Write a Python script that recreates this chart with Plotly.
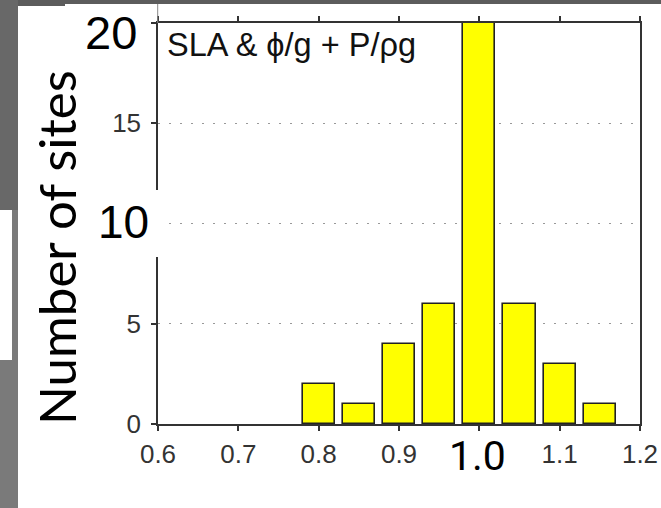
import plotly.graph_objects as go

# Data
bin_centers = [0.80, 0.85, 0.90, 0.95, 1.00, 1.05, 1.10, 1.15]
site_counts = [2, 1, 4, 6, 20, 6, 3, 1]
x_tick_vals = [0.6, 0.7, 0.8, 0.9, 1.0, 1.1, 1.2]
x_tick_text = ["0.6", "0.7", "0.8", "0.9", "", "1.1", "1.2"]
y_tick_vals = [0, 5, 10, 15, 20]
y_tick_text = ["0", "5", "", "15", ""]

W, H = 661, 508
L, R, T, B = 158, 640, 23, 424  # plot area pixel bounds


def px(x):
    return (x - L) / (R - L)


def py(y):
    return (B - y) / (B - T)


fig = go.Figure()
fig.add_trace(go.Bar(
    x=bin_centers, y=site_counts, width=0.04,
    marker=dict(color="#ffff00", line=dict(color="#222222", width=1.6)),
    showlegend=False,
))

axis_font = dict(family="Liberation Sans, Arial, sans-serif", size=26, color="#333333")

fig.update_layout(
    template="none",
    width=W, height=H, autosize=False,
    margin=dict(l=L, r=W - R, t=T, b=H - B, pad=0, autoexpand=False),
    paper_bgcolor="white", plot_bgcolor="white",
    bargap=0,
    xaxis=dict(
        range=[0.6, 1.2], tickvals=x_tick_vals, ticktext=x_tick_text,
        showgrid=False, zeroline=False, automargin=False,
        showline=True, linecolor="#333333", linewidth=1.5, mirror="ticks",
        ticks="outside", ticklen=5, tickwidth=1.5, tickcolor="#333333",
        tickfont=axis_font, ticklabelstandoff=1,
    ),
    yaxis=dict(
        range=[0, 20], tickvals=y_tick_vals, ticktext=y_tick_text,
        showgrid=True, gridcolor="#999999", gridwidth=1, griddash="2px,9px",
        zeroline=False, automargin=False,
        showline=True, linecolor="#333333", linewidth=1.5, mirror=True,
        ticks="outside", ticklen=5, tickwidth=1.5, tickcolor="#333333",
        tickfont=axis_font, ticklabelstandoff=5,
    ),
)

shapes = []


def rect(x0, y0, x1, y1, color, layer="above"):
    shapes.append(dict(type="rect", xref="paper", yref="paper",
                       x0=px(x0), x1=px(x1), y0=py(y1), y1=py(y0),
                       fillcolor=color, line=dict(width=0), layer=layer))


# white pasted box covering the axis near the "10" label
rect(18, 190, 168, 257, "white")
# gray frame pieces of the slide
rect(0, 0, W, 4, "#5c5c5c")
rect(0, 0, 65, 6, "#5c5c5c")
rect(0, 0, 18, 210, "#686868")
rect(12, 210, 18, 360, "#7a7a7a")
rect(0, 360, 18, H, "#7a7a7a")
shapes.append(dict(type="line", xref="paper", yref="paper",
                   x0=px(157.7), x1=px(157.7), y0=py(4), y1=py(23),
                   line=dict(color="#888888", width=1), layer="above"))
fig.update_layout(shapes=shapes)

ann = []


def text(x, y, s, size, family, color="black", angle=0, xanchor="center", yanchor="middle"):
    ann.append(dict(xref="paper", yref="paper", x=px(x), y=py(y), text=s,
                    showarrow=False, xanchor=xanchor, yanchor=yanchor,
                    textangle=angle, font=dict(size=size, family=family, color=color)))


arial = "Liberation Sans, Arial, sans-serif"
geo = "Lato, Open Sans, sans-serif"
text(165, 45, "SLA &amp; ϕ/g + P/ρg", 32.5, arial, "#111111", xanchor="left")
text(111, 32, "20", 47, arial)
text(123.5, 222, "10", 46, arial)
text(477, 456, "1.0", 41, "Roboto, sans-serif")
text(56, 248, "Number of sites", 51, geo, angle=-90)
fig.update_layout(annotations=ann)

fig.write_html("out.html", config={"displayModeBar": False},
               post_script="document.documentElement.style.margin='0';document.body.style.margin='0';"
                           "document.documentElement.style.overflow='hidden';document.body.style.overflow='hidden';"
                           "window.scrollTo(0,0);")
